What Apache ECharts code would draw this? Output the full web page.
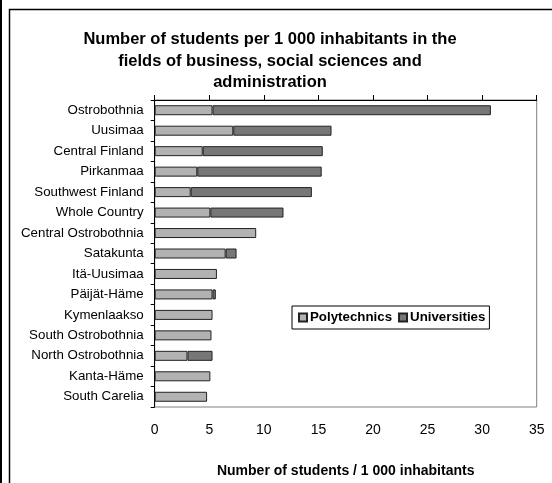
<!DOCTYPE html>
<html>
<head>
<meta charset="utf-8">
<style>
  html, body { margin: 0; padding: 0; background: #fff; }
  #chart { width: 552px; height: 483px; }
</style>
<script src="https://cdn.jsdelivr.net/npm/echarts@6/dist/echarts.min.js"></script>
</head>
<body>
<div id="chart"></div>
<script>
// regions, top to bottom
const regions = [
  "Ostrobothnia", "Uusimaa", "Central Finland", "Pirkanmaa",
  "Southwest Finland", "Whole Country", "Central Ostrobothnia", "Satakunta",
  "Itä-Uusimaa", "Päijät-Häme", "Kymenlaakso", "South Ostrobothnia",
  "North Ostrobothnia", "Kanta-Häme", "South Carelia"
];
const polytechnics = [5.3, 7.2, 4.4, 3.9, 3.3, 5.1, 9.3, 6.5, 5.7, 5.3, 5.3, 5.2, 3.0, 5.1, 4.8];
const universities = [25.5, 9.0, 11.0, 11.4, 11.1, 6.7, 0, 1.0, 0, 0.3, 0, 0, 2.3, 0, 0];
const xTicks = { min: 0, max: 35, interval: 5 };

const font = "'Liberation Sans', Arial, sans-serif";

const chart = echarts.init(document.getElementById("chart"));

const option = {
  backgroundColor: "#fff",
  animation: false,
  title: {
    text: "Number of students per 1 000 inhabitants in the\nfields of business, social sciences and\nadministration",
    left: 265,
    top: 24,
    textAlign: "center",
    textStyle: { fontFamily: font, fontSize: 16.5, fontWeight: "bold", color: "#000", lineHeight: 21.5 }
  },
  legend: {
    left: 292,
    top: 306,
    orient: "horizontal",
    icon: "rect",
    itemWidth: 8,
    itemHeight: 8,
    itemGap: 6,
    padding: [5, 4, 5, 6],
    borderColor: "#000",
    borderWidth: 1,
    backgroundColor: "#fff",
    textStyle: { fontFamily: font, fontSize: 13.3, fontWeight: "bold", color: "#000", padding: [0, 0, 0, -2] },
    data: ["Polytechnics", "Universities"]
  },
  grid: {
    left: 154.7,
    right: 15.3,
    top: 100,
    bottom: 70.3,
    show: true,
    borderColor: "#808080",
    borderWidth: 1,
    backgroundColor: "transparent"
  },
  xAxis: [
    {
      type: "value",
      position: "top",
      min: xTicks.min,
      max: xTicks.max,
      interval: xTicks.interval,
      axisLine: { show: true, lineStyle: { color: "#000", width: 1 } },
      axisTick: { show: true, length: 5, lineStyle: { color: "#000" } },
      axisLabel: { show: false },
      splitLine: { show: false }
    },
    {
      type: "value",
      position: "bottom",
      min: xTicks.min,
      max: xTicks.max,
      interval: xTicks.interval,
      axisLine: { show: false },
      axisTick: { show: false },
      axisLabel: { show: true, margin: 16, fontFamily: font, fontSize: 14, color: "#000" },
      splitLine: { show: false },
      name: "Number of students / 1 000 inhabitants",
      nameLocation: "middle",
      nameGap: 57,
      nameTextStyle: { fontFamily: font, fontSize: 14, fontWeight: "bold", color: "#000" }
    }
  ],
  yAxis: {
    type: "category",
    inverse: true,
    data: regions,
    axisLine: { show: true, lineStyle: { color: "#000", width: 1 } },
    axisTick: { show: true, length: 4, lineStyle: { color: "#000" } },
    axisLabel: { margin: 11, fontFamily: font, fontSize: 13.3, color: "#000" }
  },
  series: [
    {
      name: "Polytechnics",
      type: "bar",
      stack: "total",
      xAxisIndex: 0,
      barWidth: 10,
      data: polytechnics,
      itemStyle: { color: "#b2b2b2", borderColor: "#222", borderWidth: 1 }
    },
    {
      name: "Universities",
      type: "bar",
      stack: "total",
      xAxisIndex: 0,
      barWidth: 10,
      data: universities.map(v => (v > 0 ? v : null)),
      itemStyle: { color: "#777777", borderColor: "#222", borderWidth: 1 }
    }
  ],
  graphic: [
    {
      type: "line",
      shape: { x1: 1, y1: 0, x2: 1, y2: 483 },
      style: { stroke: "#000", lineWidth: 2 }
    },
    {
      type: "polyline",
      shape: { points: [[9.5, 483], [9.5, 9.5], [552, 9.5]] },
      style: { stroke: "#000", lineWidth: 1.5, fill: null }
    }
  ]
};

chart.setOption(option);
</script>
</body>
</html>
